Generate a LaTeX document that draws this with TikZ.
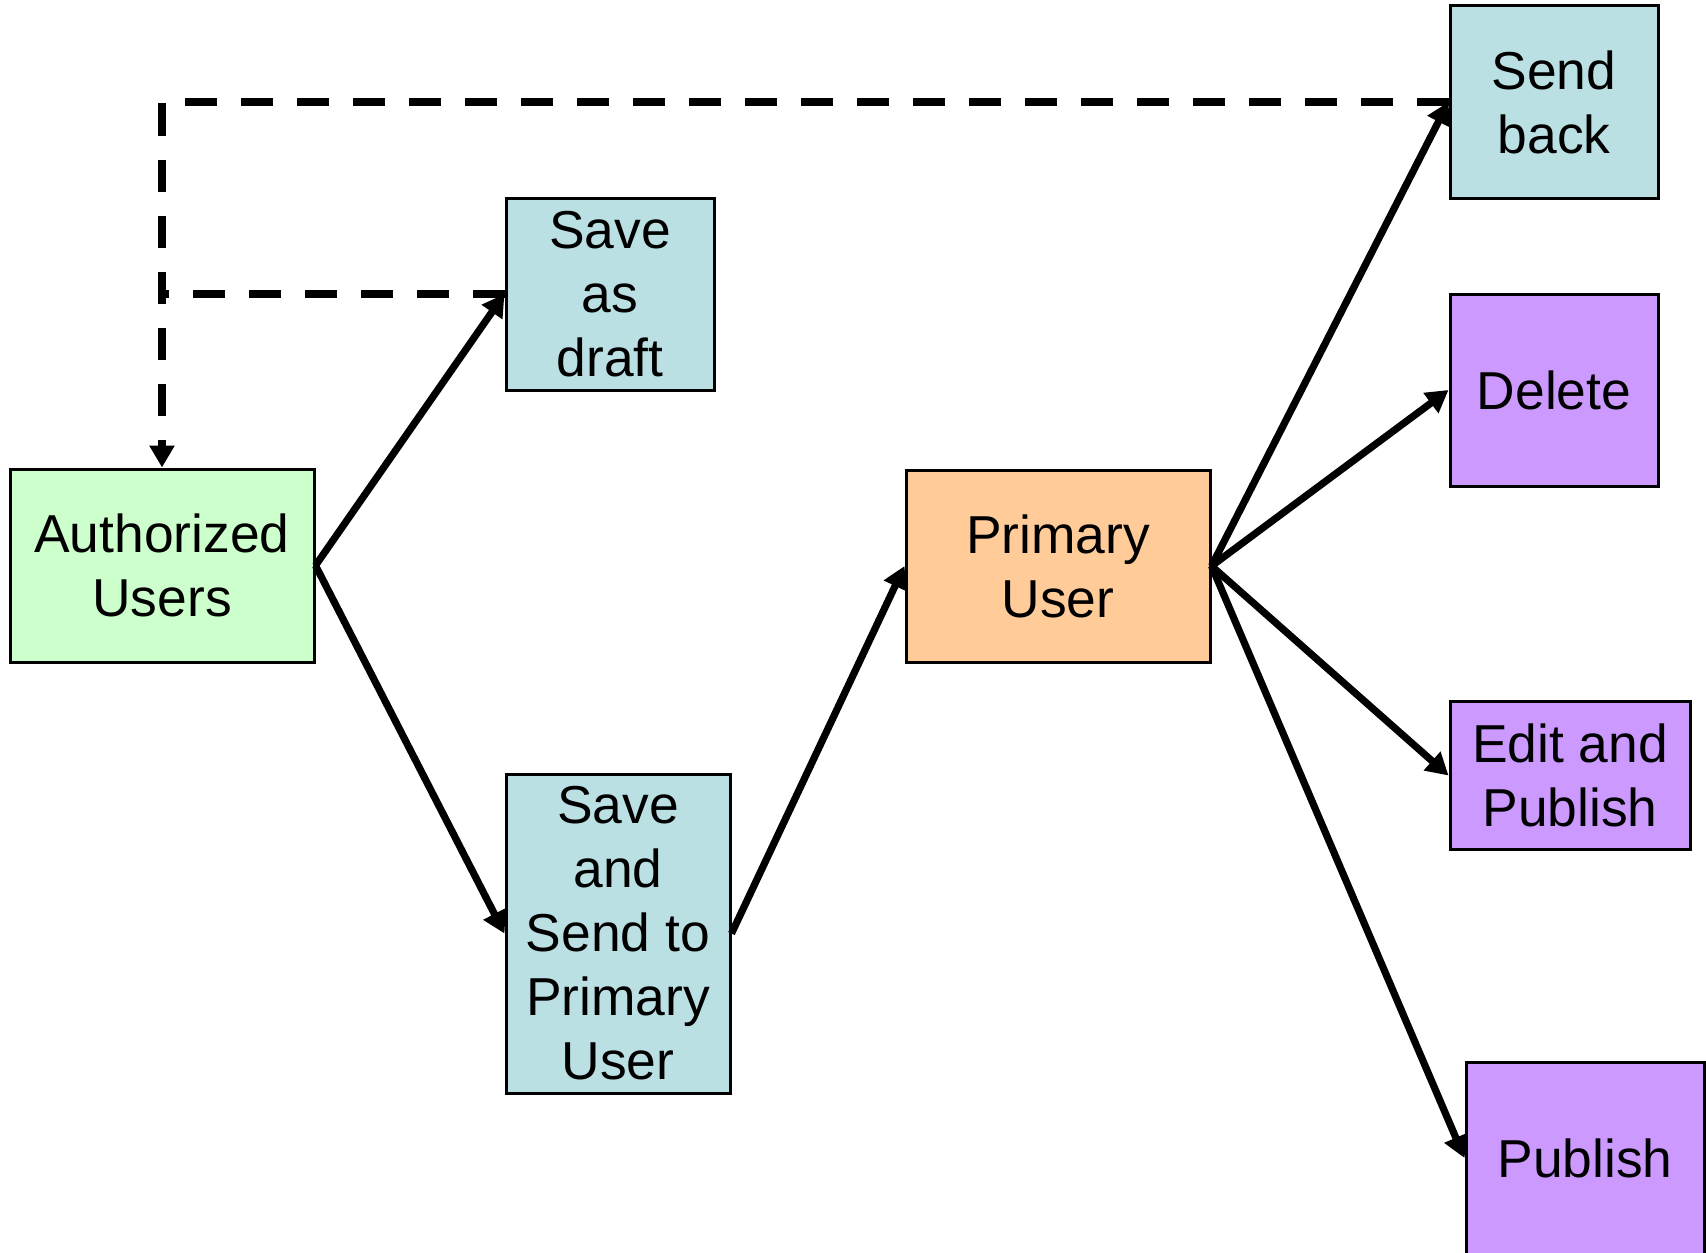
\documentclass[tikz,border=0pt]{standalone}
\usepackage{fontspec}
\setmainfont{Liberation Sans}
\usetikzlibrary{arrows.meta}
\definecolor{cgreen}{HTML}{CCFFCC}
\definecolor{cblue}{HTML}{BBE0E3}
\definecolor{corange}{HTML}{FFCC99}
\definecolor{cpurple}{HTML}{CC99FF}
\tikzset{
  box/.style={draw=black, line width=1.5pt, inner sep=0pt, align=center,
    font=\fontsize{26.7}{32}\selectfont},
  flow/.style={line width=3.6pt, -{Triangle[length=11pt,width=12pt]}},
  back/.style={line width=3.8pt, dash pattern=on 16pt off 12pt},
}
\begin{document}
\begin{tikzpicture}[x=0.5pt,y=-0.5pt]
\useasboundingbox (0,0) rectangle (1706,1252);
\clip (0,0) rectangle (1706,1252);
\fill[white] (0,0) rectangle (1706,1252);

\node[box, fill=cgreen, minimum width=152pt, minimum height=96.5pt] (au) at (162,565.5) {Authorized\\Users};
\node[box, fill=cblue, minimum width=104pt, minimum height=96pt] (draft) at (610,294) {Save\\as\\draft};
\node[box, fill=cblue, minimum width=112pt, minimum height=159.5pt] (sendpu) at (618,933.5) {Save\\and\\Send to\\Primary\\User};
\node[box, fill=corange, minimum width=152pt, minimum height=96pt] (pu) at (1058,566) {Primary\\User};
\node[box, fill=cblue, minimum width=104pt, minimum height=96pt] (sback) at (1554,102) {Send\\back};
\node[box, fill=cpurple, minimum width=104pt, minimum height=96pt] (del) at (1554,390) {Delete};
\node[box, fill=cpurple, minimum width=120pt, minimum height=74pt] (edit) at (1570,775.5) {Edit and\\Publish};
\node[box, fill=cpurple, minimum width=119pt, minimum height=96pt] (pub) at (1585,1158) {Publish};

\coordinate (ctop) at (162,102);
\coordinate (cmid) at (162,294);

\draw[back, -{Triangle[length=11pt,width=12pt]}] (sback.west) -- (ctop) -- (au.north);
\draw[back] (draft.west) -- (cmid);

\draw[flow] (au.east) -- (draft.west);
\draw[flow] (au.east) -- (sendpu.west);
\draw[flow] (sendpu.east) -- (pu.west);
\draw[flow] (pu.east) -- (sback.west);
\draw[flow] (pu.east) -- (del.west);
\draw[flow] (pu.east) -- (edit.west);
\draw[flow] (pu.east) -- (pub.west);
\end{tikzpicture}
\end{document}
